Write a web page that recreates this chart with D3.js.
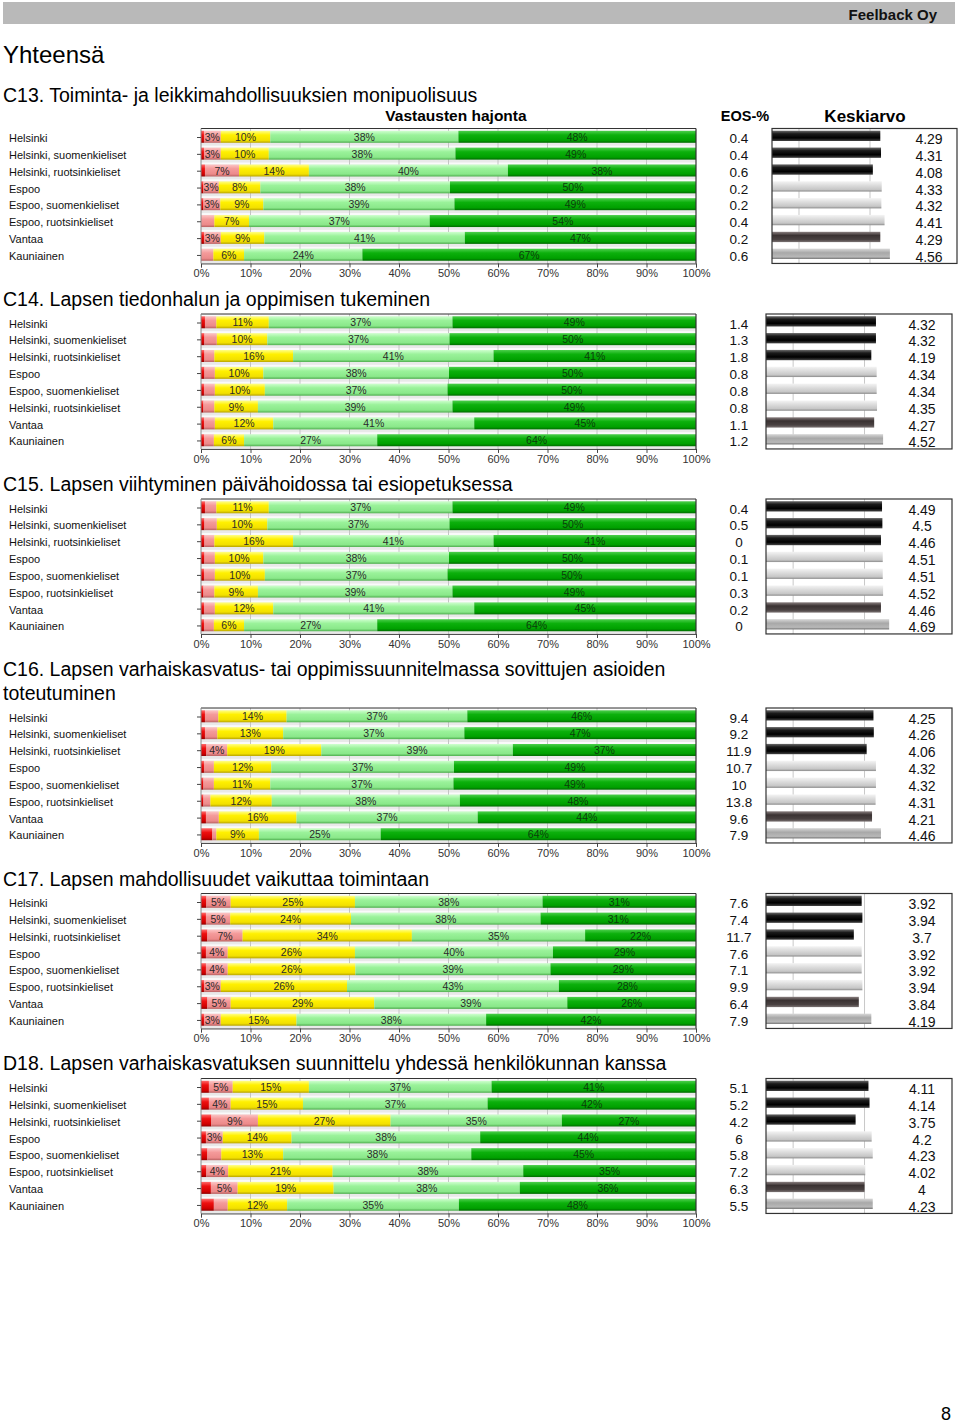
<!DOCTYPE html>
<html><head><meta charset="utf-8">
<script src="https://cdn.jsdelivr.net/npm/d3@7"></script>
<style>
body{margin:0;background:#fff;}
svg{display:block;font-family:"Liberation Sans",Arial,sans-serif;}
</style></head><body>
<svg id="chart" width="960" height="1423"></svg>
<script>
// ---------- DATA ----------
const rowsStd = ["Helsinki","Helsinki, suomenkieliset","Helsinki, ruotsinkieliset","Espoo","Espoo, suomenkieliset","Espoo, ruotsinkieliset","Vantaa","Kauniainen"];
const rowsC14 = ["Helsinki","Helsinki, suomenkieliset","Helsinki, ruotsinkieliset","Espoo","Espoo, suomenkieliset","Helsinki, ruotsinkieliset","Vantaa","Kauniainen"];
const seriesKeys = ["s1","s2","s3","s4","s5"];
const pctTicks = [0,10,20,30,40,50,60,70,80,90,100];
const meanGrid = [2,4];

const titleC13 = ["C13. Toiminta- ja leikkimahdollisuuksien monipuolisuus"];
const titleC14 = ["C14. Lapsen tiedonhalun ja oppimisen tukeminen"];
const titleC15 = ["C15. Lapsen viihtyminen päivähoidossa tai esiopetuksessa"];
const titleC16 = ["C16. Lapsen varhaiskasvatus- tai oppimissuunnitelmassa sovittujen asioiden","toteutuminen"];
const titleC17 = ["C17. Lapsen mahdollisuudet vaikuttaa toimintaan"];
const titleD18 = ["D18. Lapsen varhaiskasvatuksen suunnittelu yhdessä henkilökunnan kanssa"];

const distC13 = [[0.6,3.4,10,38,48],[0.6,3.4,9.7,37.7,48.6],[0.8,6.9,14.1,40.2,38],[0.5,3.1,8.4,38.3,49.7],[0.5,3.4,8.7,38.6,48.8],[0,2.7,7,36.5,53.8],[0.6,3.4,8.8,40.5,46.7],[0,2.5,6.2,23.9,67.4]];
const distC14 = [[0.8,2.3,10.6,37.1,49.2],[0.7,2.5,10.2,36.8,49.8],[0.7,2,15.9,40.5,40.9],[0.7,2.1,9.8,37.5,49.9],[0.6,2.2,10.1,36.9,50.2],[0.5,2.2,8.8,39.3,49.2],[0.6,2.2,11.8,40.6,44.8],[0.6,2,6.1,26.9,64.4]];
const distC15 = [[0.8,2.3,10.6,37.1,49.2],[0.7,2.5,10.2,36.8,49.8],[0.7,2,15.9,40.5,40.9],[0.7,2.1,9.8,37.5,49.9],[0.6,2.2,10.1,36.9,50.2],[0.5,2.2,8.8,39.3,49.2],[0.6,2.2,11.8,40.6,44.8],[0.6,2,6.1,26.9,64.4]];
const distC16 = [[0.8,2.7,13.8,36.5,46.2],[0.8,2.5,13.3,36.6,46.8],[1.1,4.2,19,38.7,37],[0.6,2,11.6,36.9,48.9],[0.5,2.1,11.4,37,49],[0.5,1.4,12.4,38,47.7],[1,2.6,15.7,36.6,44.1],[2.3,0.8,8.6,24.6,63.7]];
const distC17 = [[1.1,4.9,25.1,37.9,31],[1,4.9,24.4,38.3,31.4],[1.3,7.1,34.2,35,22.4],[1,4.4,25.7,40,28.9],[1,4.4,25.8,39.4,29.4],[0.6,3.4,25.5,42.8,27.7],[1.3,4.7,29,39,26],[0.6,3.4,15.3,38.3,42.4]];
const distD18 = [[1.6,4.8,15.4,36.9,41.3],[1.6,4.4,14.6,37.3,42.1],[2.1,9.4,26.8,34.6,27.1],[1,3.4,13.9,38.1,43.6],[1.3,2.8,12.5,38,45.4],[1.1,4.4,21.1,38.5,34.9],[2,5.4,19.4,37.6,35.6],[2.6,2.8,12,34.7,47.9]];

const eosC13 = ["0.4","0.4","0.6","0.2","0.2","0.4","0.2","0.6"];
const eosC14 = ["1.4","1.3","1.8","0.8","0.8","0.8","1.1","1.2"];
const eosC15 = ["0.4","0.5","0","0.1","0.1","0.3","0.2","0"];
const eosC16 = ["9.4","9.2","11.9","10.7","10","13.8","9.6","7.9"];
const eosC17 = ["7.6","7.4","11.7","7.6","7.1","9.9","6.4","7.9"];
const eosD18 = ["5.1","5.2","4.2","6","5.8","7.2","6.3","5.5"];

const meanC13 = [4.29,4.31,4.08,4.33,4.32,4.41,4.29,4.56];
const meanC14 = [4.32,4.32,4.19,4.34,4.34,4.35,4.27,4.52];
const meanC15 = [4.49,4.5,4.46,4.51,4.51,4.52,4.46,4.69];
const meanC16 = [4.25,4.26,4.06,4.32,4.32,4.31,4.21,4.46];
const meanC17 = [3.92,3.94,3.7,3.92,3.92,3.94,3.84,4.19];
const meanD18 = [4.11,4.14,3.75,4.2,4.23,4.02,4,4.23];

const meanGroup = [0,0,0,1,1,1,2,3];

// ---------- LAYOUT ----------
const charts = [
  {title:titleC13, rows:rowsStd, dist:distC13, eos:eosC13, mean:meanC13, titleY:95, c1:137, header:true, box:[772,957], valX:929},
  {title:titleC14, rows:rowsC14, dist:distC14, eos:eosC14, mean:meanC14, titleY:299, c1:322.5, box:[766,952], valX:922},
  {title:titleC15, rows:rowsStd, dist:distC15, eos:eosC15, mean:meanC15, titleY:484, c1:507.5, box:[766,952], valX:922},
  {title:titleC16, rows:rowsStd, dist:distC16, eos:eosC16, mean:meanC16, titleY:669, c1:716.5, box:[766,952], valX:922},
  {title:titleC17, rows:rowsStd, dist:distC17, eos:eosC17, mean:meanC17, titleY:879, c1:902, box:[766,952], valX:922},
  {title:titleD18, rows:rowsStd, dist:distD18, eos:eosD18, mean:meanD18, titleY:1063, c1:1087, box:[766,952], valX:922}
];
const STEP = 16.85;

const svg = d3.select("#chart");
const defs = svg.append("defs");
function grad(id, stops){
  const g = defs.append("linearGradient").attr("id",id).attr("x1",0).attr("y1",0).attr("x2",0).attr("y2",1);
  stops.forEach(s=>g.append("stop").attr("offset",s[0]).attr("stop-color",s[1]));
}
grad("g0",[[0,"#ff6a6a"],[0.35,"#ee1010"],[0.8,"#d00000"],[1,"#900000"]]);
grad("g1",[[0,"#fcc6c6"],[0.35,"#f49a9a"],[0.8,"#ec8a8a"],[1,"#b86060"]]);
grad("g2",[[0,"#ffff88"],[0.35,"#fff000"],[0.8,"#f2e000"],[1,"#b8a400"]]);
grad("g3",[[0,"#cfffcf"],[0.35,"#9af29a"],[0.8,"#8ae88a"],[1,"#4fae4f"]]);
grad("g4",[[0,"#4ccf4c"],[0.35,"#0cb00c"],[0.8,"#00a000"],[1,"#006a00"]]);
grad("m0",[[0,"#6a6a6a"],[0.3,"#1a1a1a"],[0.7,"#000"],[1,"#444"]]);
grad("m1",[[0,"#f4f4f4"],[0.4,"#dcdcdc"],[0.8,"#c6c6c6"],[1,"#8a8a8a"]]);
grad("m2",[[0,"#8a8080"],[0.35,"#3a3232"],[0.75,"#4a4242"],[1,"#7a7272"]]);
grad("m3",[[0,"#d8d8d8"],[0.4,"#a8a8a8"],[0.8,"#b8b8b8"],[1,"#707070"]]);

// page header
svg.append("rect").attr("x",3).attr("y",2).attr("width",952).attr("height",22).attr("fill","#b9b9b9");
svg.append("text").attr("x",937).attr("y",19.5).attr("text-anchor","end").attr("font-weight","bold").attr("font-size",15).attr("fill","#111").text("Feelback Oy");
svg.append("text").attr("x",3).attr("y",63).attr("font-size",24).attr("fill","#000").text("Yhteensä");
svg.append("text").attr("x",951).attr("y",1420).attr("text-anchor","end").attr("font-size",18).attr("fill","#000").text("8");

const x = d3.scaleLinear().domain([0,100]).range([201,696]);
const stack = d3.stack().keys(seriesKeys);

charts.forEach(ch=>{
  const g = svg.append("g");
  ch.title.forEach((t,i)=>{
    g.append("text").attr("x",3).attr("y",ch.titleY+7+i*24).attr("font-size",19.5).attr("fill","#000").text(t);
  });
  if(ch.header){
    g.append("text").attr("x",456).attr("y",121).attr("text-anchor","middle").attr("font-weight","bold").attr("font-size",15.5).text("Vastausten hajonta");
    g.append("text").attr("x",745).attr("y",121).attr("text-anchor","middle").attr("font-weight","bold").attr("font-size",14.5).text("EOS-%");
    g.append("text").attr("x",865).attr("y",121.5).attr("text-anchor","middle").attr("font-weight","bold").attr("font-size",17).text("Keskiarvo");
  }
  const idx = d3.range(ch.rows.length);
  const y = d3.scalePoint().domain(idx).range([ch.c1, ch.c1 + 7*STEP]);
  const top = ch.c1 - 8.5, bottom = ch.c1 + 7*STEP + 8.5;

  // plot background
  g.append("rect").attr("x",x(0)).attr("y",top).attr("width",x(100)-x(0)).attr("height",bottom-top).attr("fill","#e9e9e9");
  g.selectAll(".stripe").data(idx).join("rect")
    .attr("x",x(0)).attr("y",d=>y(d)-8.2).attr("width",x(100)-x(0)).attr("height",2).attr("fill","#fafafa");
  g.selectAll(".grid").data(pctTicks.slice(1,-1)).join("line")
    .attr("x1",d=>x(d)).attr("x2",d=>x(d)).attr("y1",top).attr("y2",bottom).attr("stroke","#c4c4c4").attr("stroke-width",1);

  // stacked bars
  const recs = ch.dist.map(v=>({s1:v[0],s2:v[1],s3:v[2],s4:v[3],s5:v[4]}));
  const series = stack(recs);
  series.forEach((s,si)=>{
    g.selectAll(".b"+si).data(s.map((d,i)=>({d,i}))).join("rect")
      .attr("x",o=>x(o.d[0])).attr("width",o=>Math.max(0,x(o.d[1])-x(o.d[0])))
      .attr("y",o=>y(o.i)-6.2).attr("height",12).attr("fill","url(#g"+si+")");
    g.selectAll(".t"+si).data(s.map((d,i)=>({d,i})).filter(o=>o.d[1]-o.d[0]>=3 && si>0)).join("text")
      .attr("x",o=>(x(o.d[0])+x(o.d[1]))/2).attr("y",o=>y(o.i)+3.8)
      .attr("text-anchor","middle").attr("font-size",10.5)
      .attr("fill",si===4?"#0b3d0b":"#2a2a2a")
      .text(o=>Math.round(o.d[1]-o.d[0])+"%");
  });

  // frame
  g.append("line").attr("x1",x(0)).attr("x2",x(100)).attr("y1",top).attr("y2",top).attr("stroke","#333").attr("stroke-width",1.2);
  g.append("line").attr("x1",x(100)).attr("x2",x(100)).attr("y1",top).attr("y2",bottom).attr("stroke","#333").attr("stroke-width",1.2);

  const xa = g.append("g").attr("transform",`translate(0,${bottom})`)
    .call(d3.axisBottom(x).tickValues(pctTicks).tickFormat(d=>d+"%").tickSize(4).tickPadding(2));
  xa.selectAll("path,line").attr("stroke","#444");
  xa.selectAll("text").attr("font-size",11).attr("fill","#333").attr("font-family","Liberation Sans, Arial, sans-serif");

  const ya = g.append("g").attr("transform",`translate(${x(0)},0)`)
    .call(d3.axisLeft(y).tickSize(4).tickFormat(""));
  ya.select("path").attr("stroke","#888").attr("d",`M0,${top}V${bottom}`);
  ya.selectAll("line").attr("stroke","#444");

  // row labels
  g.selectAll(".rl").data(idx).join("text")
    .attr("x",9).attr("y",d=>y(d)+5).attr("font-size",11).attr("fill","#111").text(d=>ch.rows[d]);

  // EOS values
  g.selectAll(".eos").data(idx).join("text")
    .attr("x",739).attr("y",d=>y(d)+6).attr("text-anchor","middle").attr("font-size",13.5).attr("fill","#111").text(d=>ch.eos[d]);

  // Keskiarvo
  const xm = d3.scaleLinear().domain([1.24,6.45]).range(ch.box);
  g.append("rect").attr("x",ch.box[0]).attr("y",top).attr("width",ch.box[1]-ch.box[0]).attr("height",bottom-top)
    .attr("fill","#fff");
  g.selectAll(".mg").data(meanGrid).join("line")
    .attr("x1",d=>xm(d)).attr("x2",d=>xm(d)).attr("y1",top).attr("y2",bottom).attr("stroke","#c8c8c8");
  g.selectAll(".mb").data(idx).join("rect")
    .attr("x",xm(1.24)).attr("y",d=>y(d)-6.3).attr("height",10.3)
    .attr("width",d=>xm(ch.mean[d])-xm(1.24)).attr("fill",d=>"url(#m"+meanGroup[d]+")");
  g.append("rect").attr("x",ch.box[0]).attr("y",top).attr("width",ch.box[1]-ch.box[0]).attr("height",bottom-top)
    .attr("fill","none").attr("stroke","#333").attr("stroke-width",1.2);
  g.selectAll(".mv").data(idx).join("text")
    .attr("x",ch.valX).attr("y",d=>y(d)+7).attr("text-anchor","middle").attr("font-size",14).attr("fill","#111")
    .text(d=>String(ch.mean[d]));
});
</script>
</body></html>
